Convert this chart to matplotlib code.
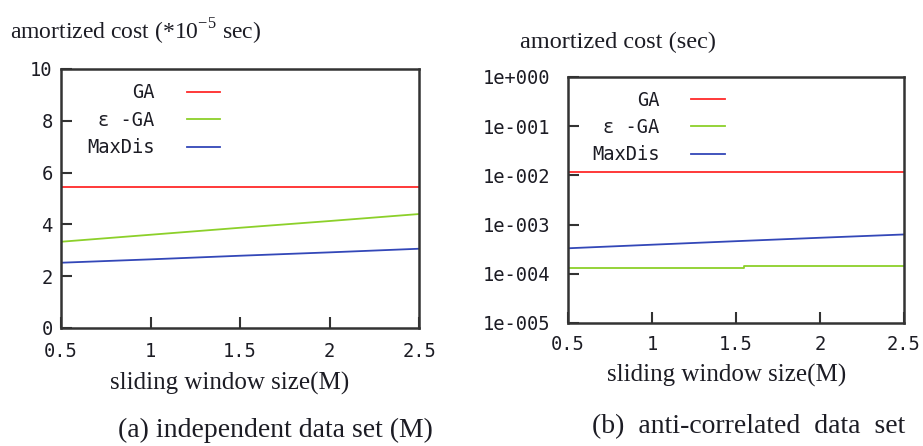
import numpy as np
import matplotlib
matplotlib.use("Agg")
import matplotlib.pyplot as plt
from matplotlib.ticker import FixedLocator, FuncFormatter, NullLocator

# sliding window size (M)
win = [0.5, 1.0, 1.5, 2.0, 2.5]

# (a) independent data set, amortized cost in 1e-5 sec
ga_ind = [5.45, 5.45, 5.45, 5.45, 5.45]
eps_ind = [3.33, 3.60, 3.87, 4.13, 4.40]
maxdis_ind = [2.52, 2.65, 2.79, 2.92, 3.06]

# (b) anti-correlated data set, amortized cost in sec
ga_anti = [0.0115, 0.0115, 0.0115, 0.0115, 0.0115]
eps_anti_x = [0.5, 1.55, 2.5]
eps_anti = [1.29e-4, 1.44e-4, 1.44e-4]
maxdis_anti = [3.3e-4, 3.9e-4, 4.6e-4, 5.4e-4, 6.3e-4]

RED, GREEN, BLUE = "#ff2a2a", "#8cd02a", "#3347b8"
SERIF = "Liberation Serif"
MONO = "DejaVu Sans Mono"
TXT = "#1c1c24"

plt.rcParams["mathtext.fontset"] = "custom"
plt.rcParams["mathtext.rm"] = SERIF

fig = plt.figure(figsize=(9.23, 4.46), dpi=100)
ax1 = fig.add_axes([0.0661, 0.2646, 0.3879, 0.5807])
ax2 = fig.add_axes([0.6154, 0.2758, 0.3640, 0.5516])


def style(ax, ypad, xpad):
    for s in ax.spines.values():
        s.set_linewidth(1.8)
        s.set_color("#333333")
    ax.tick_params(direction="in", length=8, width=1.5, color="#333333",
                   top=False, right=False, labelsize=13.5, colors=TXT)
    ax.tick_params(axis="y", pad=ypad)
    ax.tick_params(axis="x", pad=xpad)
    for lab in ax.get_xticklabels() + ax.get_yticklabels():
        lab.set_family(MONO)
    ax.set_xlim(0.5, 2.5)
    ax.xaxis.set_major_locator(FixedLocator([0.5, 1, 1.5, 2, 2.5]))
    ax.xaxis.set_major_formatter(FuncFormatter(lambda v, p: f"{v:g}"))


# ---- (a) ----
ax1.plot(win, ga_ind, color=RED, lw=1.3, label="GA")
ax1.plot(win, eps_ind, color=GREEN, lw=1.3, label="ε -GA")
ax1.plot(win, maxdis_ind, color=BLUE, lw=1.3, label="MaxDis")
ax1.set_ylim(0, 10)
ax1.yaxis.set_major_locator(FixedLocator([0, 2, 4, 6, 8, 10]))
style(ax1, ypad=6, xpad=10)

# ---- (b) ----
ax2.plot(win, ga_anti, color=RED, lw=1.3, label="GA")
ax2.plot(eps_anti_x, eps_anti, color=GREEN, lw=1.3, drawstyle="steps-post", label="ε -GA")
ax2.plot(win, maxdis_anti, color=BLUE, lw=1.3, label="MaxDis")
ax2.set_yscale("log")
ax2.set_ylim(1e-5, 1)
ax2.yaxis.set_major_locator(FixedLocator([1e-5, 1e-4, 1e-3, 1e-2, 1e-1, 1]))
ax2.yaxis.set_minor_locator(NullLocator())
ax2.yaxis.set_major_formatter(FuncFormatter(
    lambda v, p: "1e{:+04d}".format(int(round(np.log10(v)))).replace("+-", "-")))
style(ax2, ypad=13, xpad=9)

for ax, anchor in ((ax1, (0.073, 0.945)), (ax2, (0.071, 0.945))):
    leg = ax.legend(loc="upper left", bbox_to_anchor=anchor, frameon=False,
                    markerfirst=False, borderpad=0, borderaxespad=0,
                    handlelength=1.8, handletextpad=1.7, labelspacing=0.45,
                    prop={"family": MONO, "size": 13.5})
    for t in leg.get_texts():
        t.set_color(TXT)

# axis titles and captions
fig.text(0.011, 0.928, r"amortized cost (*10$^{\mathregular{-5}}$ sec)",
         family=SERIF, fontsize=17, color=TXT, va="center", ha="left")
fig.text(0.563, 0.904, "amortized cost (sec)",
         family=SERIF, fontsize=17.5, color=TXT, va="center", ha="left")
fig.text(0.249, 0.141, "sliding window size(M)",
         family=SERIF, fontsize=18, color=TXT, va="center", ha="center")
fig.text(0.787, 0.159, "sliding window size(M)",
         family=SERIF, fontsize=18, color=TXT, va="center", ha="center")
fig.text(0.298, 0.036, "(a) independent data set (M)",
         family=SERIF, fontsize=20, color=TXT, va="center", ha="center")
fig.text(0.641, 0.043, "(b)  anti-correlated  data  set",
         family=SERIF, fontsize=20, color=TXT, va="center", ha="left")

fig.savefig("out.png", dpi=100)
